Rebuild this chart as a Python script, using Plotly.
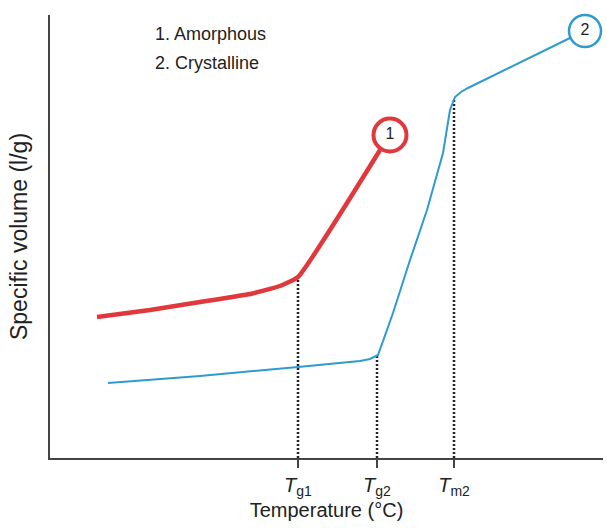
import plotly.graph_objects as go

# Data (arbitrary units)
amorph_x = [47, 100, 150, 200, 230, 248, 330]
amorph_y = [141, 148, 156, 164, 172, 181, 308]
cryst_x = [58, 150, 248, 310, 320, 328, 343, 360, 377, 393, 400, 405, 411, 418, 520]
cryst_y = [75, 82, 91, 97, 99, 103, 145, 198, 248, 305, 348, 361, 366, 370, 420]
end_labels = ["1", "2"]
end_x = [340, 535]
end_y = [323, 427]
tick_vals = [248, 327, 404]
tick_labels = ["<i>T</i><sub>g1</sub>", "<i>T</i><sub>g2</sub>", "<i>T</i><sub>m2</sub>"]
drop_y = [181, 102, 360]

RED = "#e0383d"
BLUE = "#2e9bcf"

fig = go.Figure()

for xv, yv in zip(tick_vals, drop_y):
    fig.add_trace(go.Scatter(x=[xv, xv], y=[0, yv], mode="lines",
                             line=dict(color="#222", width=2.5, dash="2px,2px"),
                             showlegend=False, hoverinfo="skip"))

fig.add_trace(go.Scatter(x=amorph_x, y=amorph_y, mode="lines",
                         line=dict(color=RED, width=4.5, shape="spline", smoothing=0.4),
                         showlegend=False))
fig.add_trace(go.Scatter(x=cryst_x, y=cryst_y, mode="lines",
                         line=dict(color=BLUE, width=2),
                         showlegend=False))

fig.add_trace(go.Scatter(x=[end_x[0]], y=[end_y[0]], mode="markers+text",
                         text=[end_labels[0]], textposition="middle center",
                         textfont=dict(size=16, color="#222"),
                         marker=dict(size=33, color="white", line=dict(color=RED, width=4)),
                         showlegend=False, cliponaxis=False))
fig.add_trace(go.Scatter(x=[end_x[1]], y=[end_y[1]], mode="markers+text",
                         text=[end_labels[1]], textposition="middle center",
                         textfont=dict(size=16, color="#222"),
                         marker=dict(size=32, color="white", line=dict(color=BLUE, width=2.5)),
                         showlegend=False, cliponaxis=False))

fig.add_annotation(x=103, y=424, text="1. Amorphous", showarrow=False,
                   xanchor="left", yanchor="middle", font=dict(size=18, color="#222"))
fig.add_annotation(x=103, y=395, text="2. Crystalline", showarrow=False,
                   xanchor="left", yanchor="middle", font=dict(size=18, color="#222"))

fig.update_layout(
    width=607, height=528,
    margin=dict(l=50, r=4, t=15, b=70),
    plot_bgcolor="white", paper_bgcolor="white",
    font=dict(family="Liberation Sans, Arial, sans-serif", color="#222"),
    xaxis=dict(range=[0, 553], showgrid=False, zeroline=False,
               showline=True, linecolor="#444", linewidth=2,
               ticks="outside", ticklen=8, tickwidth=2, tickcolor="#444",
               tickvals=tick_vals, ticktext=tick_labels,
               tickfont=dict(size=20, color="#222"),
               title=dict(text="Temperature (°C)", font=dict(size=20, color="#222"), standoff=4)),
    yaxis=dict(range=[0, 443], showgrid=False, zeroline=False,
               showline=True, linecolor="#444", linewidth=2,
               showticklabels=False, ticks="",
               title=dict(text="Specific volume (l/g)", font=dict(size=23, color="#222"), standoff=14)),
)

fig.write_html("out.html")
